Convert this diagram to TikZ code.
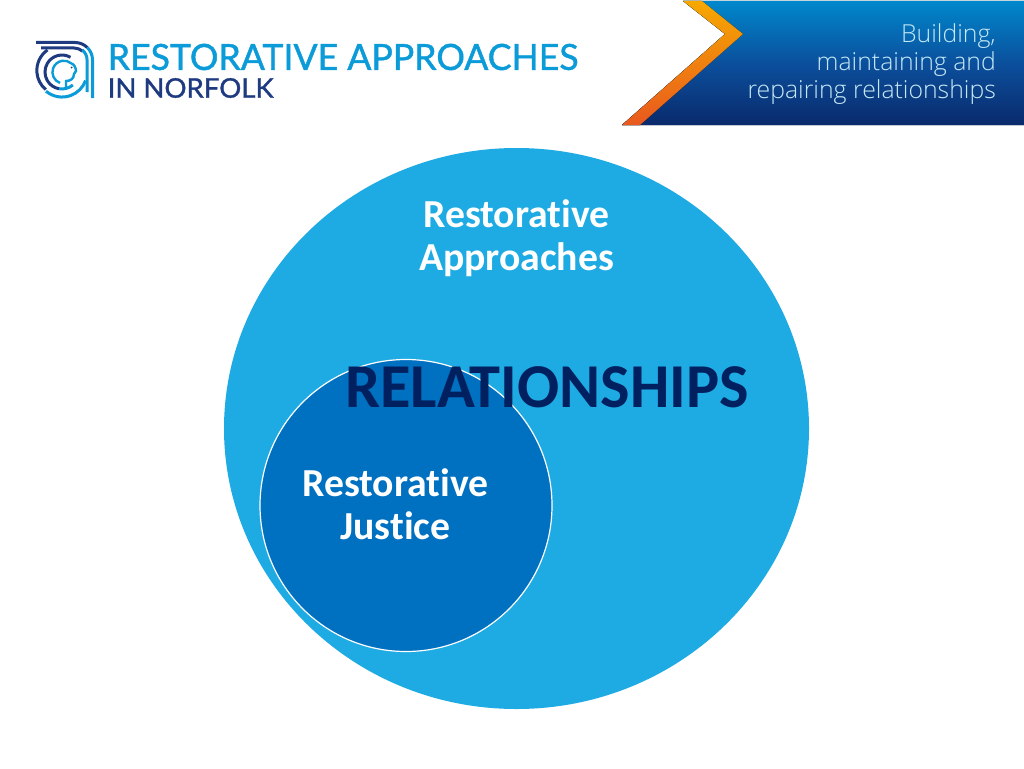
\documentclass[tikz,border=0pt]{standalone}
\usepackage{fontspec}
\setmainfont[RawFeature={-liga;-clig}]{Carlito}
\newfontfamily\logofont[FakeBold=1.2,FakeStretch=0.99]{Lato}
\newfontfamily\logofontb[FakeBold=1.2,FakeStretch=1.02]{Lato}
\newfontfamily\bannerfont{Open Sans Light}
\usetikzlibrary{shapes.geometric}
\definecolor{bigblue}{HTML}{1EABE3}
\definecolor{innerblue}{HTML}{0070C0}
\definecolor{navy}{HTML}{002060}
\definecolor{logoblue}{HTML}{0A9BD8}
\definecolor{logonavy}{HTML}{1E3A80}
\definecolor{bantop}{HTML}{0088CC}
\definecolor{banmid}{HTML}{0B4F9C}
\definecolor{banbot}{HTML}{0A2A6C}
\definecolor{chevtop}{HTML}{F6A800}
\definecolor{chevbot}{HTML}{E9591E}
\definecolor{bantext}{HTML}{C4E8F6}
\tikzset{
  bodytext/.style={font=\bfseries\fontsize{39.7}{43}\selectfont,text=white,align=center,inner sep=0pt},
  logoa/.style={draw=logoblue,line width=3pt,line cap=butt},
  logob/.style={draw=logonavy,line width=3pt,line cap=butt},
  bannertext/.style={font=\bannerfont\fontsize{24.8}{29}\selectfont,text=bantext,anchor=east,inner sep=0pt},
}
\begin{document}
\begin{tikzpicture}[x=1pt,y=-1pt]
\useasboundingbox (0,0) rectangle (1024,768);
\fill[white] (0,0) rectangle (1024,768);
% circles
\node[ellipse,fill=bigblue,inner sep=0pt,minimum width=585pt,minimum height=561pt] (big) at (516.5,428.5) {};
\node[circle,draw=white,fill=innerblue,line width=1.2pt,inner sep=0pt,minimum size=292pt] (small) at (406,505.5) {};
\node[bodytext] (ra) at (516.5,238) {Restorative\\Approaches};
\node[bodytext] (rj) at (395.5,504.5) {Restorative\\Justice};
\node[inner sep=0pt,text=navy,font=\bfseries\fontsize{62.4}{66}\selectfont] (rel) at (547,387) {RELATIONSHIPS};
% banner
\fill[top color=bantop,bottom color=banbot,middle color=banmid] (683,1) -- (1024,1) -- (1024,125) -- (622,125) -- (725,34) -- cycle;
\fill[top color=chevtop,bottom color=chevbot] (683,1) -- (702,1) -- (743,34) -- (640,125) -- (622,125) -- (725,34) -- cycle;
\node[bannertext] (b1) at (996,36.5) {Building,};
\node[bannertext] (b2) at (996,64.5) {maintaining and};
\node[bannertext] (b3) at (996,92.5) {repairing relationships};
% logo text
\node[inner sep=0pt,anchor=west,text=logoblue,font=\logofont\fontsize{36}{40}\selectfont] (lt1) at (107.5,57) {RESTORATIVE APPROACHES};
\node[inner sep=0pt,anchor=west,text=logonavy,font=\logofontb\fontsize{27}{30}\selectfont] (lt2) at (107.5,88) {IN NORFOLK};
% logo mark (y runs down, so angles run clockwise)
\draw[logob] (36,42.5) -- (75,42.5) arc[start angle=270,end angle=315,radius=17.5];
\draw[logoa] (87.4,47.6) arc[start angle=315,end angle=360,radius=17.5] -- (92.5,98);
\draw[logob] (41,48) -- (74,48) arc[start angle=270,end angle=310,radius=13];
\draw[logoa] (82.4,50) arc[start angle=310,end angle=360,radius=13] -- (87,92);
\draw[logob] (47.5,50) arc[start angle=235,end angle=130,radius=25];
\draw[logoa] (46,91.2) arc[start angle=130,end angle=20,radius=25];
\draw[logob] (70.5,57.3) arc[start angle=300,end angle=100,radius=17];
\draw[logoa] (59,88.7) arc[start angle=100,end angle=50,radius=17];
\draw[logoa,line width=2.4pt] (60,83) arc[start angle=110,end angle=310,radius=11.5] .. controls (74,64) and (76,68) .. (76,71) -- (74,74) .. controls (74,79) and (70,81) .. (66,81) -- (66,88);
\fill[logonavy] (71.5,67.5) circle[radius=1];
\end{tikzpicture}
\end{document}
